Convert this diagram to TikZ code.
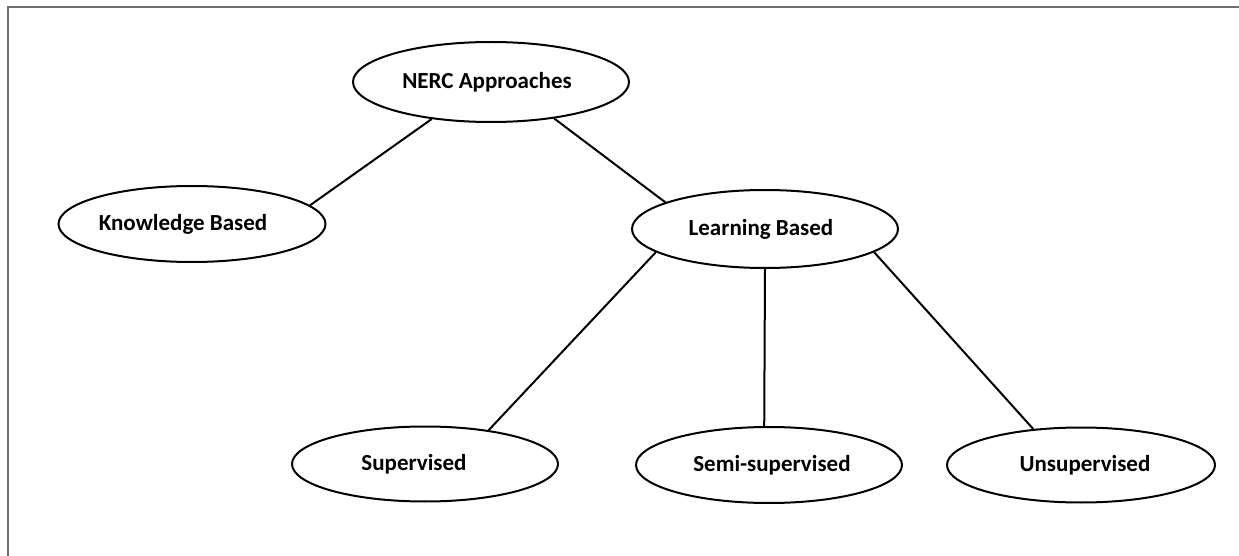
\documentclass[tikz,border=0pt]{standalone}
\usepackage{fontspec}
\setmainfont{Carlito}
\usepackage{xcolor}
\definecolor{frame3}{RGB}{110,110,110}
\usepackage{tikz}
\usetikzlibrary{shapes.geometric}

\begin{document}
\begin{tikzpicture}[x=0.5pt, y=-0.5pt,
    approach/.style={draw, ellipse, line width=1pt, inner sep=0pt},
    caption/.style={font=\fontsize{11.5}{13}\selectfont\bfseries},
    link/.style={line width=1pt}]
  % canvas and frame
  \useasboundingbox (0,0) rectangle (1239,556);
  \draw[frame3, line width=0.6pt] (8,556) -- (8,7) -- (1239,7);

  % top level
  \node[approach, minimum width=138pt, minimum height=40pt,
    label={[caption, xshift=-2pt]center:NERC Approaches}] (nerc) at (491,82) {};

  % second level
  \node[approach, minimum width=133.5pt, minimum height=38pt,
    label={[caption, xshift=-4.5pt]center:Knowledge Based}] (kb) at (192,224) {};
  \node[approach, minimum width=133pt, minimum height=39pt,
    label={[caption, xshift=-2pt]center:Learning Based}] (lb) at (765,229) {};

  % learning based branches
  \node[approach, minimum width=133pt, minimum height=37.5pt,
    label={[caption, xshift=-5.5pt]center:Supervised}] (sup) at (425,464) {};
  \node[approach, minimum width=133pt, minimum height=38pt,
    label={[caption, xshift=1.5pt]center:Semi-supervised}] (semi) at (769,465) {};
  \node[approach, minimum width=134pt, minimum height=37.5pt,
    label={[caption, xshift=2pt]center:Unsupervised}] (unsup) at (1081,465) {};

  % connectors
  \draw[link] (nerc.212) -- (kb.9);
  \draw[link] (nerc.330) -- (lb.165);
  \draw[link] (lb.192) -- (sup.28);
  \draw[link] (lb.270) -- (semi.97);
  \draw[link] (lb.348) -- (unsup.143);
\end{tikzpicture}
\end{document}
